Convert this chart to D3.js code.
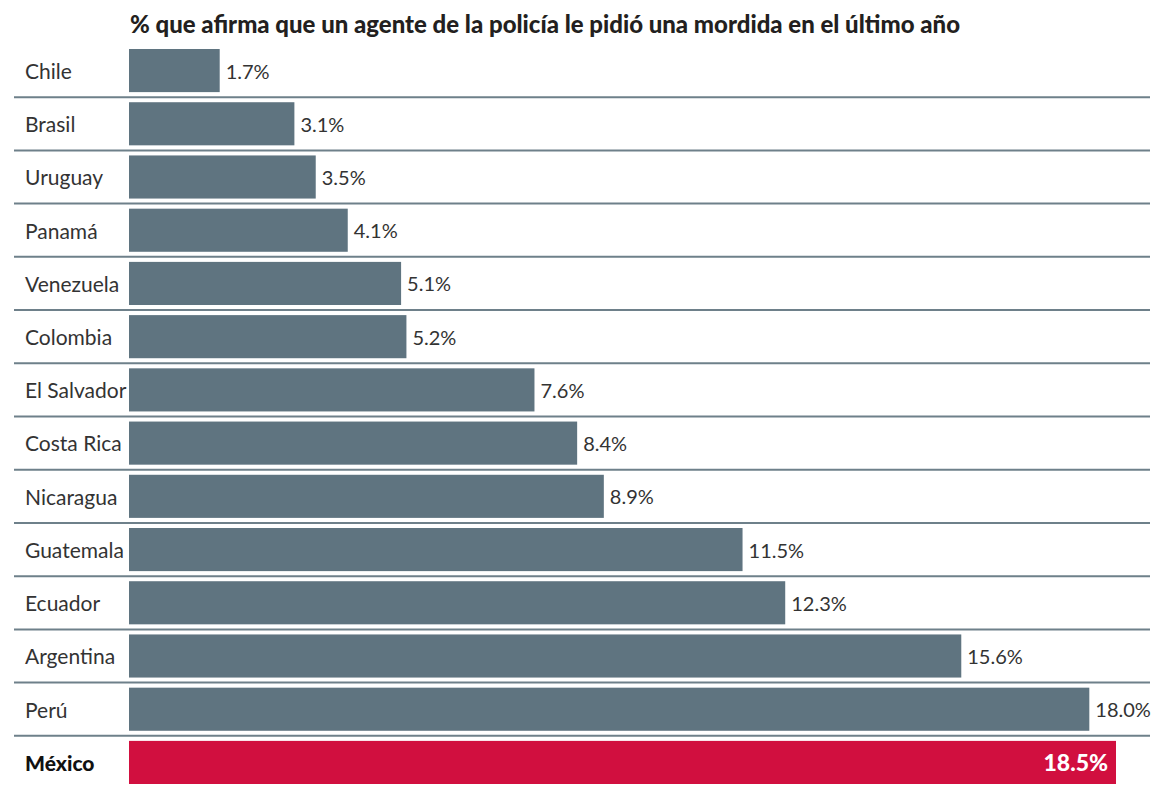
<!DOCTYPE html>
<html>
<head>
<meta charset="utf-8">
<script src="https://cdn.jsdelivr.net/npm/d3@7"></script>
<style>
  html, body { margin: 0; padding: 0; background: #fff; }
  svg { display: block; }
</style>
</head>
<body>
<svg id="chart" width="1152" height="785"></svg>
<script>
const titleText = "% que afirma que un agente de la policía le pidió una mordida en el último año";
const countries = ["Chile","Brasil","Uruguay","Panamá","Venezuela","Colombia","El Salvador","Costa Rica","Nicaragua","Guatemala","Ecuador","Argentina","Perú","México"];
const values = [1.7,3.1,3.5,4.1,5.1,5.2,7.6,8.4,8.9,11.5,12.3,15.6,18.0,18.5];
const highlight = "México";

const data = countries.map((c, i) => ({country: c, value: values[i]}));

const svg = d3.select("#chart");
const labelFont = "Lato, 'Open Sans', sans-serif";

const x = d3.scaleLinear().domain([0, 18.5]).range([129, 1116]);
const y = d3.scaleBand().domain(countries).range([49, 784]).paddingInner(0.19).paddingOuter(0);
const gap = y.step() - y.bandwidth();

// title
svg.append("text")
  .attr("x", 130).attr("y", 33)
  .attr("font-family", "Lato, 'Open Sans', sans-serif")
  .attr("font-weight", 900)
  .attr("font-size", 25)
  .attr("fill", "#231f20")
  .attr("textLength", 830)
  .attr("lengthAdjust", "spacingAndGlyphs")
  .text(titleText);

// separator lines
svg.append("g").selectAll("line")
  .data(countries.slice(0, -1))
  .join("line")
  .attr("x1", 14).attr("x2", 1150)
  .attr("y1", d => y(d) + y.bandwidth() + gap / 2)
  .attr("y2", d => y(d) + y.bandwidth() + gap / 2)
  .attr("stroke", "#6e808a")
  .attr("stroke-width", 2);

// bars
svg.append("g").selectAll("rect")
  .data(data)
  .join("rect")
  .attr("x", x(0))
  .attr("y", d => y(d.country))
  .attr("width", d => x(d.value) - x(0))
  .attr("height", y.bandwidth())
  .attr("fill", d => d.country === highlight ? "#d10f3f" : "#5f7480");

// country labels
svg.append("g").selectAll("text")
  .data(data)
  .join("text")
  .attr("x", 25)
  .attr("y", d => y(d.country) + y.bandwidth() / 2 + 1)
  .attr("dy", "0.35em")
  .attr("font-family", labelFont)
  .attr("font-size", 21)
  .attr("font-weight", d => d.country === highlight ? 900 : 400)
  .attr("fill", d => d.country === highlight ? "#111" : "#333")
  .text(d => d.country);

// value labels
svg.append("g").selectAll("text")
  .data(data)
  .join("text")
  .attr("x", d => d.country === highlight ? x(d.value) - 8 : x(d.value) + 6)
  .attr("y", d => y(d.country) + y.bandwidth() / 2 + 1)
  .attr("dy", "0.35em")
  .attr("text-anchor", d => d.country === highlight ? "end" : "start")
  .attr("font-family", labelFont)
  .attr("font-size", d => d.country === highlight ? 23 : 20)
  .attr("font-weight", d => d.country === highlight ? 900 : 400)
  .attr("fill", d => d.country === highlight ? "#fff" : "#333")
  .text(d => d.value.toFixed(1) + "%");
</script>
</body>
</html>
